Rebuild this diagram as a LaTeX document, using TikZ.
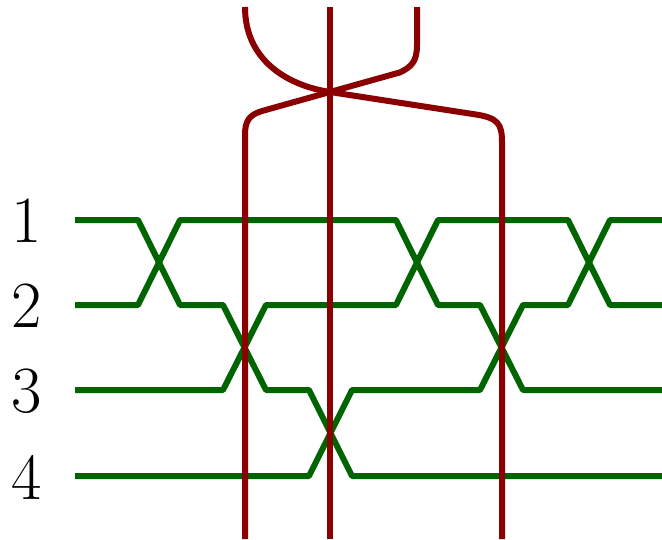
\documentclass[tikz,border=0pt]{standalone}
\usepackage{xcolor}
\definecolor{strandgreen}{RGB}{0,100,0}
\definecolor{strandred}{RGB}{139,0,0}
\begin{document}
\begin{tikzpicture}[x=1pt,y=-1pt,
  gstrand/.style={draw=strandgreen,line width=6pt,line join=round},
  rstrand/.style={draw=strandred,line width=6pt},
  lbl/.style={inner sep=0pt,font=\fontsize{66}{66}\selectfont}]
\useasboundingbox (0,0) rectangle (662,539);
% labels
\node[lbl] (l1) at (27,221) {1};
\node[lbl] (l2) at (27,306) {2};
\node[lbl] (l3) at (27,391) {3};
\node[lbl] (l4) at (27,477) {4};
% green strands
\draw[gstrand] (75,220)--(138,220)--(180,305)--(223,305)--(266,390)--(309,390)--(352,476)--(662,476);
\draw[gstrand] (75,305)--(138,305)--(180,220)--(396,220)--(438,305)--(480,305)--(523,390)--(662,390);
\draw[gstrand] (75,390)--(223,390)--(266,305)--(396,305)--(438,220)--(568,220)--(610,305)--(662,305);
\draw[gstrand] (75,476)--(309,476)--(352,390)--(480,390)--(523,305)--(568,305)--(610,220)--(662,220);
% red strands
\draw[rstrand] (330,7)--(330,539);
\draw[rstrand] (245,7) .. controls (245,62) and (290,86) .. (330,92) -- (476,114.5) .. controls (498,118) and (502,124) .. (502,142) -- (502,539);
\draw[rstrand] (417,7) -- (417,45) .. controls (417,62) and (411,67) .. (400,72.4) -- (262,111) .. controls (249,115) and (245,121) .. (245,135) -- (245,539);
\end{tikzpicture}
\end{document}
